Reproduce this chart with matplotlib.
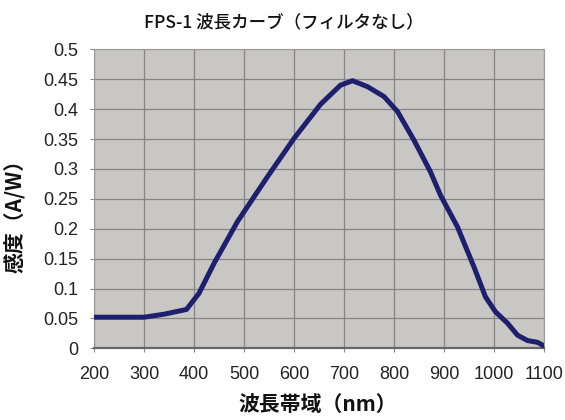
import matplotlib
matplotlib.use('Agg')
import matplotlib.pyplot as plt

# 波長(nm)と感度(A/W) 図から読み取った値
wavelength = [200, 300, 340, 385, 410, 440, 487, 547, 600, 653, 693, 717,
              747, 780, 807, 840, 873, 893, 927, 960, 983, 1003, 1027, 1047,
              1067, 1087, 1100]
sensitivity = [0.052, 0.052, 0.057, 0.065, 0.092, 0.142, 0.212, 0.287, 0.351,
               0.408, 0.440, 0.4475, 0.4375, 0.421, 0.396, 0.348, 0.295, 0.256,
               0.203, 0.136, 0.086, 0.061, 0.042, 0.022, 0.013, 0.010, 0.004]

xticks = [200, 300, 400, 500, 600, 700, 800, 900, 1000, 1100]
yticks = [0, 0.05, 0.1, 0.15, 0.2, 0.25, 0.3, 0.35, 0.4, 0.45, 0.5]
ytick_labels = ['0', '0.05', '0.1', '0.15', '0.2', '0.25', '0.3', '0.35', '0.4', '0.45', '0.5']

jp = ['Noto Sans CJK JP', 'DejaVu Sans']

fig = plt.figure(figsize=(5.65, 4.2), dpi=100)
ax = fig.add_axes([0.1664, 0.1707, 0.7964, 0.7119])
ax.set_facecolor('#c9c7c4')

ax.plot(wavelength, sensitivity, color='#1e1f6e', lw=3.6,
        solid_capstyle='round', solid_joinstyle='round', zorder=3)

ax.set_xlim(200, 1100)
ax.set_ylim(0, 0.5)
ax.set_xticks(xticks)
ax.set_yticks(yticks)
ax.set_yticklabels(ytick_labels)
ax.grid(True, color='#858585', lw=0.9)
ax.set_axisbelow(True)

for s in ['left', 'top', 'right']:
    ax.spines[s].set_color('#9a9a9a')
    ax.spines[s].set_linewidth(0.8)
ax.spines['bottom'].set_color('#666666')
ax.spines['bottom'].set_linewidth(1.6)

ax.tick_params(axis='x', length=3, width=0.8, color='#888888', pad=10,
               labelsize=13, labelcolor='#222222')
ax.tick_params(axis='y', length=3, width=0.8, color='#888888', pad=8,
               labelsize=13, labelcolor='#222222')
for lab in ax.get_xticklabels() + ax.get_yticklabels():
    lab.set_family(['Liberation Sans', 'DejaVu Sans'])

fig.text(0.503, 0.948, 'FPS-1 波長カーブ（フィルタなし）', ha='center', va='center',
         fontsize=12.6, family=jp, fontweight='medium', color='#111111')
ax.set_xlabel('波長帯域（nm）', fontsize=15, family=jp, fontweight='bold', color='#111111')
ax.set_ylabel('感度（A/W）', fontsize=15, family=jp, fontweight='bold', color='#111111')
ax.xaxis.set_label_coords(0.498, -0.19)
ax.yaxis.set_label_coords(-0.174, 0.459)
ax.xaxis.label.set_va('center')
ax.yaxis.label.set_va('center')

fig.savefig('out.png', dpi=100)
